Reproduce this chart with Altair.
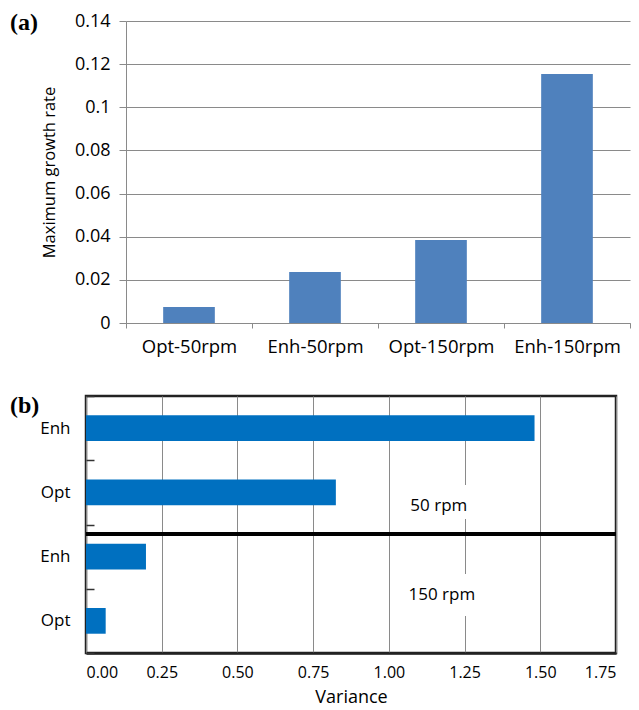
import altair as alt
import pandas as pd

# ---- panel (a) data ----
a_categories = ["Opt-50rpm", "Enh-50rpm", "Opt-150rpm", "Enh-150rpm"]
a_values = [0.0074, 0.0236, 0.0385, 0.1154]
a_yticks = [0, 0.02, 0.04, 0.06, 0.08, 0.1, 0.12, 0.14]

# ---- panel (b) data ----
b_rows = ["Enh|50", "Opt|50", "Enh|150", "Opt|150"]
b_values = [1.481, 0.825, 0.198, 0.065]
b_xticks = [0, 0.25, 0.5, 0.75, 1.0, 1.25, 1.5, 1.75]

# annotation positions (row units: 0 = top of first row, 4 = bottom of last row)
ann_labels = ["50 rpm", "150 rpm"]
ann_x = [1.165, 1.175]
ann_row = [1.707, 3.097]
box_x = [1.03, 1.03]
box_x2 = [1.3, 1.3]
box_row = [1.385, 2.77]
box_row2 = [1.914, 3.424]
divider_row = [2.148]

FONT = "Open Sans"

df_a = pd.DataFrame({"cat": a_categories, "val": a_values})
df_b = pd.DataFrame({"row": b_rows, "val": b_values})
df_ann = pd.DataFrame({"label": ann_labels, "x": ann_x, "r": ann_row})
df_box = pd.DataFrame({"x": box_x, "x2": box_x2, "r": box_row, "r2": box_row2})
df_div = pd.DataFrame({"r": divider_row})

gray = "#8a8a8a"

top = alt.Chart(df_a).mark_bar(
    color="#4F81BD", width=alt.RelativeBandSize(band=0.41)
).encode(
    x=alt.X("cat:N", sort=a_categories, title=None,
            scale=alt.Scale(paddingInner=0, paddingOuter=0),
            axis=alt.Axis(labelAngle=0, tickBand="extent", domainColor=gray,
                          tickColor=gray, tickSize=5, labelFont=FONT,
                          labelFontSize=18.5, labelColor="#000", labelPadding=9,
                          grid=False)),
    y=alt.Y("val:Q", title="Maximum growth rate",
            scale=alt.Scale(domain=[0, 0.14], nice=False),
            axis=alt.Axis(values=a_yticks, domainColor=gray, tickColor=gray,
                          tickSize=7, gridColor=gray, gridWidth=1,
                          labelFont=FONT, labelFontSize=18, labelColor="#000",
                          labelPadding=9, titleFont=FONT, titleFontSize=16.5,
                          titleFontWeight="normal", titleColor="#000",
                          titlePadding=17,
                          labelExpr="datum.value == 0 ? '0' : format(datum.value, '.2~f')")),
).properties(
    width=504, height=302,
    view=alt.ViewBackground(stroke=None),
    title=alt.TitleParams("(a)", anchor="start", frame="group",
                          font="Liberation Serif", fontSize=24,
                          fontWeight="bold", color="#000", dx=-116,
                          offset=-39, dy=-16),
)

# invisible spacer that lets panel (a) sit further right than panel (b)
spacer = alt.Chart(pd.DataFrame({"v": [0]})).mark_point(opacity=0).properties(
    width=1, height=1, view=alt.ViewBackground(stroke=None)
)

bars_b = alt.Chart(df_b).mark_bar(
    color="#0070C0", height=alt.RelativeBandSize(band=0.4)
).encode(
    y=alt.Y("row:N", sort=b_rows, title=None,
            scale=alt.Scale(paddingInner=0, paddingOuter=0),
            axis=alt.Axis(tickBand="extent", domain=False, offset=-8,
                          tickSize=8, tickColor="#333", tickWidth=1.5,
                          labelFont=FONT, labelFontSize=17, labelColor="#000",
                          labelPadding=16, grid=False,
                          labelExpr="split(datum.label, '|')[0]")),
    x=alt.X("val:Q", title="Variance",
            scale=alt.Scale(domain=[0, 1.75], nice=False),
            axis=alt.Axis(values=b_xticks, format=".2f", domainColor="#222",
                          domainWidth=2.5, tickSize=0, gridColor=gray,
                          gridWidth=1, labelFont=FONT, labelFontSize=16,
                          labelColor="#000", labelPadding=11, titleFont=FONT,
                          titleFontSize=18, titleFontWeight="normal",
                          titleColor="#000", titlePadding=8)),
)

rscale = alt.Scale(domain=[0, 4], reverse=True, nice=False, zero=False)

boxes = alt.Chart(df_box).mark_rect(color="white").encode(
    x="x:Q", x2="x2:Q",
    y=alt.Y("r:Q", scale=rscale, axis=None), y2="r2:Q",
)
texts = alt.Chart(df_ann).mark_text(font=FONT, fontSize=17, color="#000").encode(
    x="x:Q",
    y=alt.Y("r:Q", scale=rscale, axis=None),
    text="label:N",
)
divider = alt.Chart(df_div).mark_rule(color="#000", strokeWidth=4).encode(
    y=alt.Y("r:Q", scale=rscale, axis=None),
)

bottom = alt.layer(boxes, bars_b, texts, divider).resolve_scale(
    y="independent"
).properties(
    width=530, height=257,
    view=alt.ViewBackground(stroke="#222", strokeWidth=2.5),
    title=alt.TitleParams("(b)", anchor="start", frame="group",
                          font="Liberation Serif", fontSize=24,
                          fontWeight="bold", color="#000", dx=-76, offset=-31),
)

top_row = alt.hconcat(spacer, top, spacing=-80)
chart = alt.vconcat(top_row, bottom, spacing=29).properties(
    padding={"top": 3, "left": 0, "right": 0, "bottom": 0}
)

chart.save("out.html", embed_options={"renderer": "svg", "actions": False})
